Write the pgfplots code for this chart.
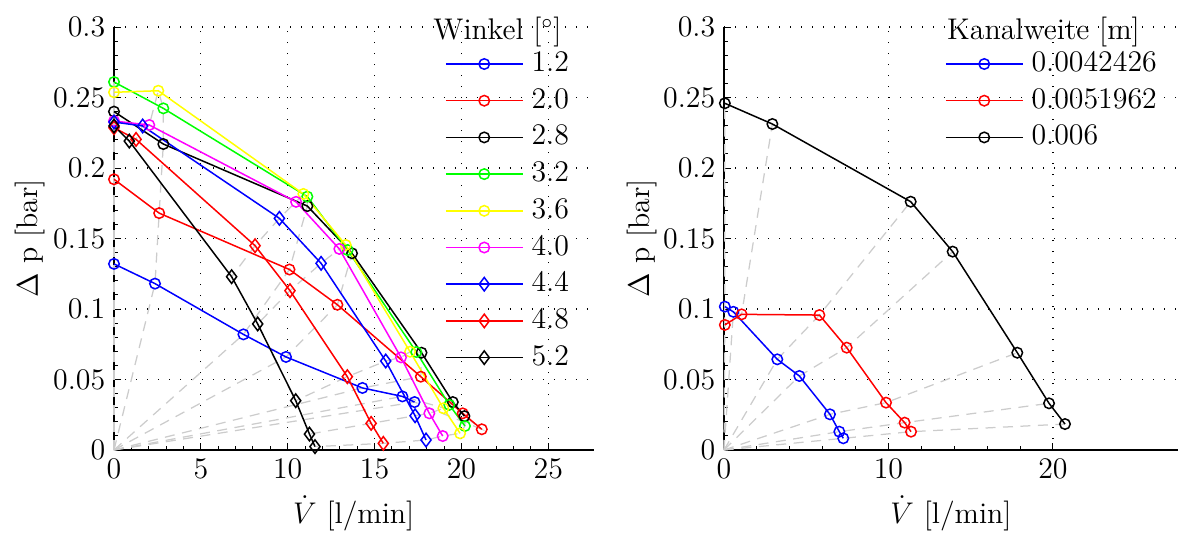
\documentclass[border=0pt]{standalone}
\usepackage{pgfplots}
\pgfplotsset{compat=1.18}
\definecolor{cBlau}{rgb}{0,0,1}
\definecolor{cRot}{rgb}{1,0,0}
\definecolor{cGruen}{rgb}{0,1,0}
\definecolor{cGelb}{rgb}{1,1,0}
\definecolor{cMagenta}{rgb}{1,0,1}
\definecolor{cGrau}{rgb}{0.8,0.8,0.8}
\begin{document}
\begin{tikzpicture}[font=\fontsize{12}{14.4}\selectfont]
\pgfplotsset{
  kennfeld/.style={
    scale only axis, height=169.2bp,
    ymin=0, ymax=0.3, xmin=0, xmax=27.6,
    ytick={0,0.05,0.1,0.15,0.2,0.25,0.3},
    yticklabel style={/pgf/number format/fixed, /pgf/number format/precision=2},
    scaled y ticks=false,
    axis x line*=bottom, axis y line*=left,
    axis line style={line width=0.5bp, black},
    tick align=inside,
    tick style={line width=0.4bp, black},
    major tick length=2.6bp, minor tick length=1.5bp,
    minor x tick num=4, minor y tick num=4,
    grid=major,
    major grid style={black, line width=0.5bp, dash pattern=on 0.5bp off 3.9bp},
    clip=false,
    every axis plot/.append style={line width=0.6bp},
    legend image code/.code={%
      \draw[mark repeat=2, mark phase=2] plot coordinates {(0bp,0bp) (15.4bp,0bp) (30.8bp,0bp)};},
    legend cell align=left,
    legend style={draw=none, fill=none, inner sep=0pt, outer sep=0pt, anchor=north west,
      row sep=2.68bp,
      nodes={inner sep=0pt, text height=9bp, text depth=3bp},
      /tikz/every odd column/.append style={column sep=3.2bp}},
    xlabel={$\dot V$\ [l/min]},
    ylabel={$\Delta$ p [bar]},
    x label style={anchor=base},
    y label style={anchor=base},
  },
  iso/.style={cGrau, line width=0.5bp, dash pattern=on 4bp off 3bp, forget plot, mark=none},
  kreis/.style={mark=o, mark size=2.1bp, mark options={solid}},
  raute/.style={mark=diamond, mark size=2.7bp, mark options={solid}},
}

% ---------- Kennlinien ueber dem Winkel ----------
\begin{axis}[kennfeld, at={(45.6bp,33.6bp)}, anchor=south west, width=191.8bp,
  xtick={0,5,10,15,20,25},
  x label style={at={(axis description cs:0.5,-0.1726)}},
  y label style={at={(axis description cs:-0.1585,0.5)}},
  legend style={at={(axis description cs:0.6903,0.948)}}]
% Linien gleicher Drosselstellung
\addplot[iso] coordinates {(0,0) (0,0.132) (0,0.192) (0,0.240) (0,0.261) (0,0.2537) (0,0.2333) (0,0.2326) (0,0.2286) (0,0.2298)};
\addplot[iso] coordinates {(0,0) (2.36,0.118) (2.6,0.168) (2.84,0.217) (2.84,0.2423) (2.55,0.2548) (2.03,0.2305) (1.65,0.2298) (1.27,0.2203) (0.88,0.2191)};
\addplot[iso] coordinates {(0,0) (7.45,0.082) (10.1,0.128) (11.13,0.173) (11.13,0.1797) (10.9,0.1816) (10.48,0.176) (9.52,0.1643) (8.12,0.1449) (6.77,0.1229)};
\addplot[iso] coordinates {(0,0) (9.9,0.066) (12.86,0.103) (13.7,0.1395) (13.45,0.1418) (13.34,0.1454) (12.97,0.1426) (11.92,0.1324) (10.13,0.113) (8.27,0.0894)};
\addplot[iso] coordinates {(0,0) (14.3,0.044) (17.66,0.052) (17.7,0.069) (17.4,0.0695) (17.04,0.0697) (16.52,0.0657) (15.64,0.0631) (13.43,0.052) (10.46,0.035)};
\addplot[iso] coordinates {(0,0) (16.6,0.038) (20.07,0.026) (19.5,0.034) (19.3,0.032) (18.96,0.0296) (18.15,0.026) (17.33,0.0243) (14.8,0.0189) (11.25,0.0113)};
\addplot[iso] coordinates {(0,0) (17.3,0.034) (21.17,0.0147) (20.17,0.024) (20.2,0.017) (19.92,0.0118) (18.92,0.0099) (17.96,0.0071) (15.5,0.0047) (11.57,0.0024)};
% Messreihen
\addplot[cBlau, kreis] coordinates {(0,0.132) (2.36,0.118) (7.45,0.082) (9.9,0.066) (14.3,0.044) (16.6,0.038) (17.3,0.034)};
\addlegendentry{1.2}
\addplot[cRot, kreis] coordinates {(0,0.192) (2.6,0.168) (10.1,0.128) (12.86,0.103) (17.66,0.052) (20.07,0.026) (21.17,0.0147)};
\addlegendentry{2.0}
\addplot[black, kreis] coordinates {(0,0.240) (2.84,0.217) (11.13,0.173) (13.7,0.1395) (17.7,0.069) (19.5,0.034) (20.17,0.024)};
\addlegendentry{2.8}
\addplot[cGruen, kreis] coordinates {(0,0.261) (2.84,0.2423) (11.13,0.1797) (13.45,0.1418) (17.4,0.0695) (19.3,0.032) (20.2,0.017)};
\addlegendentry{3.2}
\addplot[cGelb, kreis] coordinates {(0,0.2537) (2.55,0.2548) (10.9,0.1816) (13.34,0.1454) (17.04,0.0697) (18.96,0.0296) (19.92,0.0118)};
\addlegendentry{3.6}
\addplot[cMagenta, kreis] coordinates {(0,0.2333) (2.03,0.2305) (10.48,0.176) (12.97,0.1426) (16.52,0.0657) (18.15,0.026) (18.92,0.0099)};
\addlegendentry{4.0}
\addplot[cBlau, raute] coordinates {(0,0.2326) (1.65,0.2298) (9.52,0.1643) (11.92,0.1324) (15.64,0.0631) (17.33,0.0243) (17.96,0.0071)};
\addlegendentry{4.4}
\addplot[cRot, raute] coordinates {(0,0.2286) (1.27,0.2203) (8.12,0.1449) (10.13,0.113) (13.43,0.052) (14.8,0.0189) (15.5,0.0047)};
\addlegendentry{4.8}
\addplot[black, raute] coordinates {(0,0.2298) (0.88,0.2191) (6.77,0.1229) (8.27,0.0894) (10.46,0.035) (11.25,0.0113) (11.57,0.0024)};
\addlegendentry{5.2}
\node[anchor=base, inner sep=0pt] at (rel axis cs:0.7998,0.9700) {Winkel [$^\circ$]};
\end{axis}

% ---------- Kennlinien ueber der Kanalweite ----------
\begin{axis}[kennfeld, at={(289.6bp,33.6bp)}, anchor=south west, width=181.6bp,
  xtick={0,10,20},
  x label style={at={(axis description cs:0.5,-0.1726)}},
  y label style={at={(axis description cs:-0.165,0.5)}},
  legend style={at={(axis description cs:0.4868,0.948)}}]
\addplot[iso] coordinates {(0,0) (0.05,0.1017) (0.05,0.0887) (0.05,0.2459)};
\addplot[iso] coordinates {(0,0) (0.57,0.098) (1.07,0.0962) (2.94,0.2312)};
\addplot[iso] coordinates {(0,0) (3.24,0.0643) (5.8,0.0957) (11.35,0.1761)};
\addplot[iso] coordinates {(0,0) (4.58,0.0525) (7.46,0.0726) (13.9,0.1407)};
\addplot[iso] coordinates {(0,0) (6.44,0.0253) (9.85,0.0336) (17.83,0.069)};
\addplot[iso] coordinates {(0,0) (7.01,0.013) (10.98,0.0194) (19.76,0.0331)};
\addplot[iso] coordinates {(0,0) (7.25,0.0083) (11.37,0.013) (20.73,0.0184)};
\addplot[cBlau, kreis] coordinates {(0.05,0.1017) (0.57,0.098) (3.24,0.0643) (4.58,0.0525) (6.44,0.0253) (7.01,0.013) (7.25,0.0083)};
\addlegendentry{0.0042426}
\addplot[cRot, kreis] coordinates {(0.05,0.0887) (1.07,0.0962) (5.8,0.0957) (7.46,0.0726) (9.85,0.0336) (10.98,0.0194) (11.37,0.013)};
\addlegendentry{0.0051962}
\addplot[black, kreis] coordinates {(0.05,0.2459) (2.94,0.2312) (11.35,0.1761) (13.9,0.1407) (17.83,0.069) (19.76,0.0331) (20.73,0.0184)};
\addlegendentry{0.006}
\node[anchor=base, inner sep=0pt] at (rel axis cs:0.7037,0.9700) {Kanalweite [m]};
\end{axis}
\pgfresetboundingbox
\path (0,0) rectangle (472.8bp,213.6bp);
\end{tikzpicture}
\end{document}
